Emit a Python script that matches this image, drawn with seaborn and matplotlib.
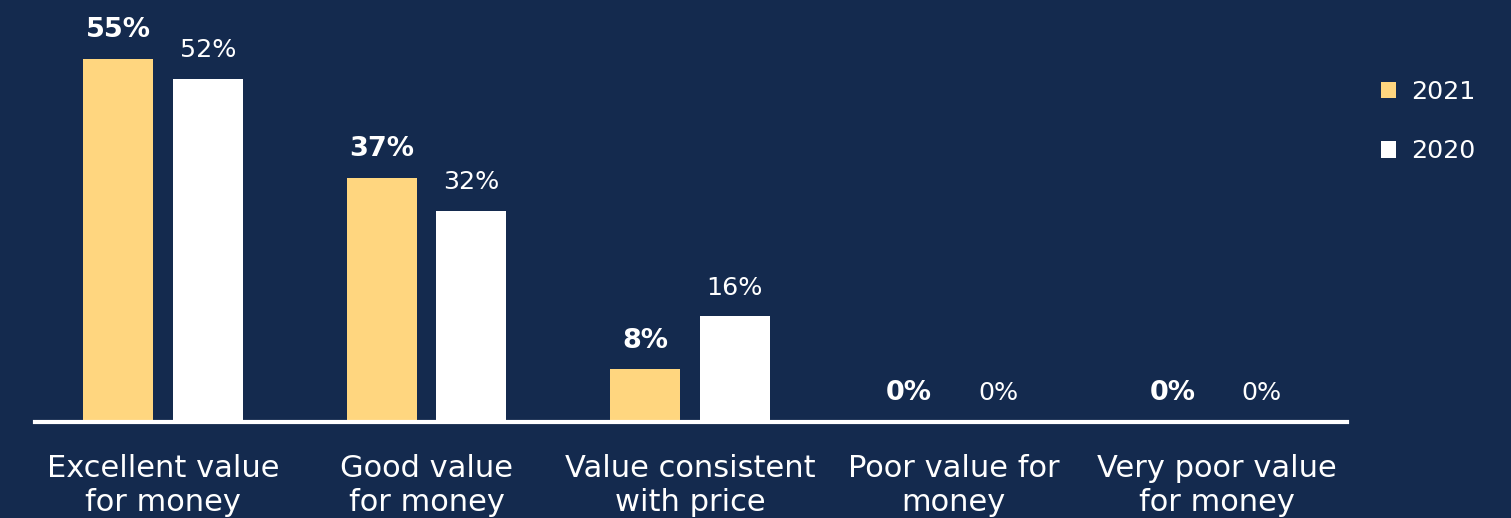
import numpy as np
import pandas as pd
import seaborn as sns
import matplotlib.pyplot as plt

# data
categories = ["Excellent value\nfor money", "Good value\nfor money",
              "Value consistent\nwith price", "Poor value for\nmoney",
              "Very poor value\nfor money"]
years = ["2021", "2020"]
share_2021 = [55, 37, 8, 0, 0]
share_2020 = [52, 32, 16, 0, 0]

bg = "#142a4e"
colors = {"2021": "#ffd67f", "2020": "#ffffff"}

df = pd.DataFrame({
    "category": categories * 2,
    "year": ["2021"] * len(categories) + ["2020"] * len(categories),
    "value": share_2021 + share_2020,
})

sns.set_style("white")
plt.rcParams["font.family"] = ["DejaVu Sans"]

fig = plt.figure(figsize=(15.11, 5.18), dpi=100, facecolor=bg)
ax = fig.add_axes([35 / 1511, 96 / 518, 1312 / 1511, 422 / 518])
ax.set_facecolor(bg)

sns.barplot(data=df, x="category", y="value", hue="year", hue_order=years,
            palette=colors, width=0.68, gap=0.22, ax=ax, saturation=1,
            linewidth=0, errorbar=None)

ax.set_xlim(-0.486, 4.493)
ax.set_ylim(0, 63.94)

# value labels
for cont, yr in zip(ax.containers, years):
    bold = yr == "2021"
    for p in cont.patches:
        h = p.get_height()
        ax.annotate(f"{h:.0f}%", (p.get_x() + p.get_width() / 2, h),
                    xytext=(0, 15.5), textcoords="offset points",
                    ha="center", va="baseline", color="white",
                    fontsize=19.5 if bold else 18.3,
                    fontweight="bold" if bold else "normal")

for s in ["top", "left", "right"]:
    ax.spines[s].set_visible(False)
ax.spines["bottom"].set_color("white")
ax.spines["bottom"].set_linewidth(3)
ax.set_yticks([])
ax.set_xlabel("")
ax.set_ylabel("")
ax.tick_params(axis="x", length=0, pad=23, labelsize=22, colors="white")
for t in ax.get_xticklabels():
    t.set_linespacing(1.2)

handles, labels = ax.get_legend_handles_labels()
ax.legend(handles, labels, loc="upper left", bbox_to_anchor=(1323 / 1312, 0.865),
          frameon=False, fontsize=18.3, labelcolor="white",
          handlelength=0.6, handleheight=0.6, handletextpad=0.6,
          labelspacing=1.4)

fig.savefig("out.png", dpi=100, facecolor=bg)
